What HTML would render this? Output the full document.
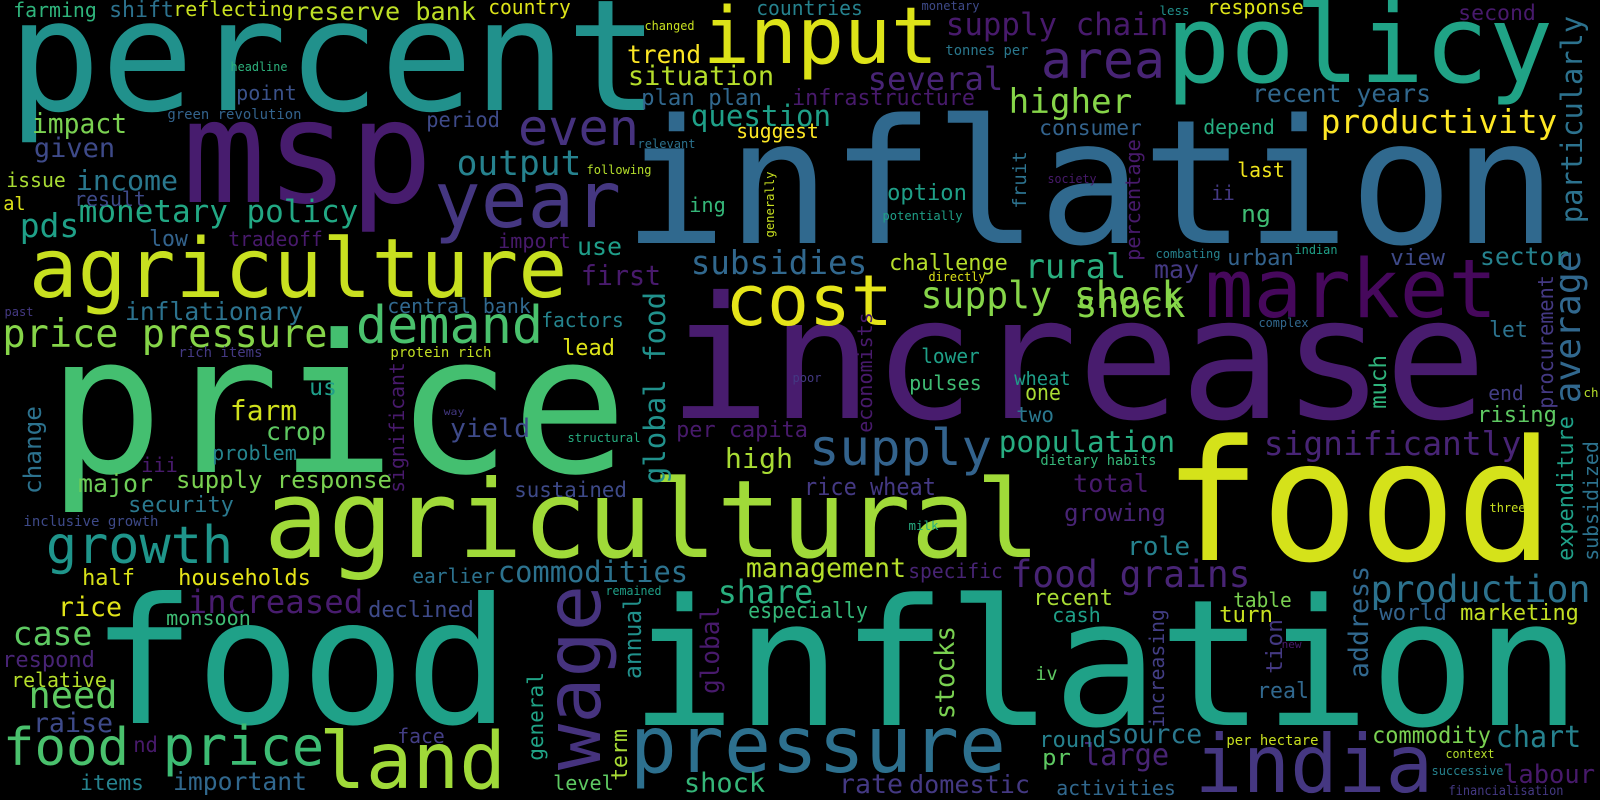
<!DOCTYPE html>
<html>
<head>
<meta charset="utf-8">
<style>
html,body{margin:0;padding:0;background:#000;}
svg{display:block;}
text{font-family:"DejaVu Sans Mono","Liberation Mono",monospace;}
</style>
</head>
<body>
<svg id="cloud" width="1600" height="800" viewBox="0 0 1600 800" xmlns="http://www.w3.org/2000/svg">
<rect x="0" y="0" width="1600" height="800" fill="#000"/>
</svg>
<script>
// word, left x (or baseline x for vertical), baseline y (or bottom y for vertical), font size, ink length, colour, vertical
const words = [
["percent",14,110,155,639,"#21918c",0],
["msp",188,202,143,239,"#471c6e",0],
["inflation",630,243,173,920,"#30698e",0],
["increase",675,418,170,805,"#481c6e",0],
["price",55,472,192,565,"#44bf70",0],
["agriculture",32,297,82,532,"#c8e020",0],
["agricultural",268,557,108,768,"#a0da39",0],
["food",98,723,175,405,"#1fa188",0],
["inflation",637,725,176,937,"#1fa187",0],
["food",1170,560,168,377,"#d5e21a",0],
["policy",1170,82,108,379,"#20a386",0],
["input",706,63,78,229,"#dde318",0],
["cost",728,325,70,162,"#e5e419",0],
["market",1208,317,81,286,"#46085c",0],
["year",437,227,78,181,"#453781",0],
["even",520,145,50,117,"#46327e",0],
["wage",600,767,77,179,"#46337e",1],
["pressure",633,772,78,370,"#2d708e",0],
["india",1198,792,80,232,"#453781",0],
["land",322,788,78,181,"#a0da39",0],
["demand",358,343,52,183,"#4ac16d",0],
["supply",811,465,50,179,"#33638d",0],
["growth",48,563,52,183,"#1f958b",0],
["area",1043,78,52,120,"#482475",0],
["price",165,765,54,157,"#3dbc74",0],
["food",5,765,52,122,"#4ac16d",0],
["price pressure",4,347,39,322,"#86d549",0],
["supply shock",922,308,37,260,"#86d549",0],
["production",1372,602,37,217,"#2c728e",0],
["food grains",1012,587,37,237,"#482475",0],
["need",30,708,37,86,"#5ec962",0],
["shock",1077,317,37,107,"#86d549",0],
["higher",1010,113,34,121,"#86d549",0],
["output",458,175,35,122,"#26828e",0],
["rural",1026,278,34,99,"#29af7f",0],
["pds",21,237,33,57,"#1fa088",0],
["case",14,645,33,77,"#5ec962",0],
["productivity",1322,133,33,234,"#fde725",0],
["significantly",1265,455,33,255,"#482475",0],
["subsidies",692,274,33,174,"#31688e",0],
["increased",189,613,32,173,"#481c6e",0],
["several",869,90,32,133,"#482475",0],
["share",719,603,32,93,"#29af7f",0],
["monetary policy",80,222,31,277,"#22a884",0],
["supply chain",947,35,31,220,"#481a6c",0],
["commodities",499,582,29,188,"#2c728e",0],
["population",1000,452,29,174,"#27ad81",0],
["question",692,126,29,138,"#1fa088",0],
["global food",665,483,29,190,"#21918c",1],
["particularly",1582,222,29,205,"#2c728e",1],
["chart",1497,747,30,83,"#26828e",0],
["large",1084,765,30,84,"#482475",0],
["average",1580,402,36,150,"#31688e",1],
["income",77,190,28,100,"#2a788e",0],
["farm",231,420,28,65,"#d0e11c",0],
["high",726,468,28,66,"#a8db34",0],
["first",582,285,28,78,"#481a6c",0],
["situation",629,85,27,144,"#b5de2b",0],
["management",747,577,27,158,"#b5de2b",0],
["given",35,157,27,79,"#3e4a89",0],
["impact",33,133,28,93,"#7ad151",0],
["rice",59,616,27,62,"#e2e418",0],
["raise",34,732,27,78,"#3e4a89",0],
["source",1108,743,27,93,"#2a788e",0],
["rate",840,793,27,62,"#443983",0],
["shock",685,792,27,79,"#35b779",0],
["stocks",954,718,27,91,"#7ad151",1],
["address",1368,677,27,110,"#31688e",1],
["role",1128,555,26,61,"#26828e",0],
["yield",451,437,26,78,"#3e4a89",0],
["labour",1504,783,26,90,"#481a6c",0],
["global",719,693,26,86,"#481a6c",1],
["reserve bank",295,20,25,180,"#bddf26",0],
["recent years",1253,102,25,177,"#31688e",0],
["inflationary",126,320,25,176,"#2c728e",0],
["important",174,790,25,132,"#31688e",0],
["trend",628,63,25,72,"#fde725",0],
["total",1074,492,25,74,"#481a6c",0],
["domestic",910,793,25,119,"#443983",0],
["use",578,255,25,43,"#1f9e89",0],
["may",1155,278,25,43,"#443983",0],
["crop",267,440,25,58,"#5ec962",0],
["major",79,492,25,73,"#6ece58",0],
["sector",1481,265,25,87,"#26828e",0],
["change",41,493,24,86,"#2c728e",1],
["supply response",177,488,24,214,"#7ad151",0],
["rice wheat",805,495,24,130,"#443983",0],
["growing",1065,521,24,100,"#482475",0],
["ng",1242,222,24,28,"#3fbc73",0],
["annual",641,678,24,81,"#21918c",1],
["us",310,395,23,26,"#1f9e89",0],
["commodity",1373,743,23,117,"#7ad151",0],
["much",1386,408,23,52,"#2fb47c",1],
["urban",1228,265,22,65,"#33638d",0],
["view",1391,265,22,53,"#3e4a89",0],
["security",129,512,22,104,"#2a788e",0],
["half",83,585,22,51,"#d8e219",0],
["households",179,585,22,131,"#e5e419",0],
["declined",369,617,22,104,"#3e4a89",0],
["respond",3,667,22,91,"#482475",0],
["plan plan",642,105,22,119,"#31688e",0],
["infrastructure",793,105,22,181,"#481a6c",0],
["option",888,200,22,78,"#1fa088",0],
["challenge",890,270,22,117,"#b5de2b",0],
["lead",563,355,22,51,"#dde318",0],
["one",1026,400,22,34,"#a8db34",0],
["per capita",677,437,22,130,"#481a6c",0],
["especially",749,618,22,118,"#35b779",0],
["recent",1034,605,22,78,"#a8db34",0],
["turn",1220,622,22,52,"#c8e020",0],
["world",1380,620,22,66,"#33638d",0],
["marketing",1461,620,22,117,"#c2df23",0],
["low",150,246,22,37,"#33638d",0],
["round",1040,747,22,65,"#26828e",0],
["pr",1043,765,22,27,"#5ec962",0],
["rising",1478,422,22,78,"#5ec962",0],
["tion",1282,673,22,53,"#443983",1],
["term",627,780,22,50,"#a8db34",1],
["general",543,760,21,87,"#20a386",1],
["expenditure",1573,560,22,143,"#1fa088",1],
["real",1258,698,22,50,"#31688e",0],
["two",1017,422,21,36,"#2a788e",0],
["nd",134,752,21,23,"#481a6c",0],
["items",81,790,21,62,"#26828e",0],
["second",1459,20,21,76,"#481a6c",0],
["period",427,127,21,72,"#3e4a89",0],
["consumer",1040,135,21,101,"#33638d",0],
["sustained",515,497,21,111,"#3e4a89",0],
["monsoon",167,625,20,83,"#3fbc73",0],
["relative",12,687,20,94,"#b5de2b",0],
["face",398,743,20,46,"#433e85",0],
["level",554,790,20,59,"#5ec962",0],
["activities",1057,795,20,118,"#31688e",0],
["farming",14,17,20,82,"#2fb47c",0],
["shift",110,17,22,63,"#2c728e",0],
["reflecting",174,16,20,119,"#c8e020",0],
["country",489,14,20,81,"#dde318",0],
["point",237,100,20,59,"#3b528b",0],
["issue",7,187,20,58,"#a8db34",0],
["result",75,206,20,70,"#3e4a89",0],
["al",4,210,19,21,"#dde318",0],
["tradeoff",229,246,20,93,"#481a6c",0],
["central bank",388,313,20,142,"#31688e",0],
["problem",213,460,20,83,"#25848e",0],
["iii",142,472,20,35,"#481a6c",0],
["earlier",413,583,20,81,"#2c728e",0],
["countries",757,15,20,105,"#26828e",0],
["suggest",737,138,20,81,"#fde725",0],
["ing",690,212,20,35,"#35b779",0],
["factors",542,327,20,81,"#25848e",0],
["lower",922,363,20,57,"#1fa088",0],
["pulses",910,390,20,71,"#3fbc73",0],
["wheat",1015,385,19,55,"#1f9e89",0],
["iv",1036,680,19,21,"#5ec962",0],
["response",1208,14,20,95,"#dde318",0],
["depend",1204,134,20,70,"#27ad81",0],
["last",1238,177,20,46,"#f0e51c",0],
["ii",1212,200,20,22,"#443983",0],
["let",1490,337,22,37,"#2c728e",0],
["end",1489,400,20,34,"#433e85",0],
["table",1234,607,20,57,"#7ad151",0],
["significant",404,492,20,129,"#481a6c",1],
["economists",872,432,20,119,"#481a6c",1],
["fruit",1026,208,19,56,"#2c728e",1],
["percentage",1140,260,20,120,"#481a6c",1],
["procurement",1553,408,21,132,"#443983",1],
["increasing",1164,727,20,117,"#433e85",1],
["subsidized",1598,560,20,118,"#2c728e",1],
["headline",231,71,12,56,"#2db27d",0],
["green revolution",168,119,14,133,"#33638d",0],
["inclusive growth",24,526,14,134,"#3e4a89",0],
["rich items",179,357,14,83,"#443983",0],
["protein rich",391,357,14,100,"#c2df23",0],
["past",5,316,12,28,"#443983",0],
["way",444,415,10,20,"#443983",0],
["monetary",922,10,12,57,"#3e4a89",0],
["changed",645,30,12,49,"#c8e020",0],
["tonnes per",946,55,14,82,"#2a788e",0],
["relevant",638,148,12,57,"#2c728e",0],
["following",587,174,12,64,"#b5de2b",0],
["generally",774,237,12,65,"#c8e020",1],
["potentially",883,220,12,79,"#1fa088",0],
["directly",929,281,12,56,"#dde318",0],
["poor",793,382,12,28,"#443983",0],
["structural",568,442,12,72,"#27ad81",0],
["dietary habits",1041,465,14,115,"#35b779",0],
["milk",909,530,12,29,"#27ad81",0],
["remained",606,595,12,55,"#1fa088",0],
["specific",909,578,20,93,"#482475",0],
["cash",1053,622,20,47,"#1fa088",0],
["less",1160,15,12,29,"#21918c",0],
["society",1048,183,12,48,"#481a6c",0],
["combating",1156,258,12,64,"#26828e",0],
["indian",1295,254,12,42,"#1fa088",0],
["complex",1259,327,12,49,"#31688e",0],
["ch",1584,397,12,14,"#b5de2b",0],
["three",1490,512,12,35,"#c8e020",0],
["new",1282,648,11,19,"#481a6c",0],
["per hectare",1227,745,14,91,"#c8e020",0],
["context",1446,758,12,48,"#b5de2b",0],
["successive",1432,775,12,71,"#26828e",0],
["financialisation",1449,795,13,114,"#443983",0],
["import",499,248,20,71,"#481a6c",0]
];
const NS = "http://www.w3.org/2000/svg";
const svg = document.getElementById("cloud");
for (const w of words) {
  const [txt, x, y, fs, len, col, rot] = w;
  const t = document.createElementNS(NS, "text");
  
  
  t.setAttribute("font-size", fs);
  t.setAttribute("fill", col);
  t.setAttribute("textLength", (len + 0.08 * fs).toFixed(1));
  t.setAttribute("lengthAdjust", "spacingAndGlyphs");
  if (rot) {
    t.setAttribute("transform", "translate(" + x + "," + y + ") rotate(-90)");
    t.setAttribute("x", (-0.04 * fs).toFixed(1));
    t.setAttribute("y", 0);
  } else {
    t.setAttribute("x", (x - 0.04 * fs).toFixed(1));
    t.setAttribute("y", y);
  }
  t.textContent = txt;
  svg.appendChild(t);
}
</script>
</body>
</html>
